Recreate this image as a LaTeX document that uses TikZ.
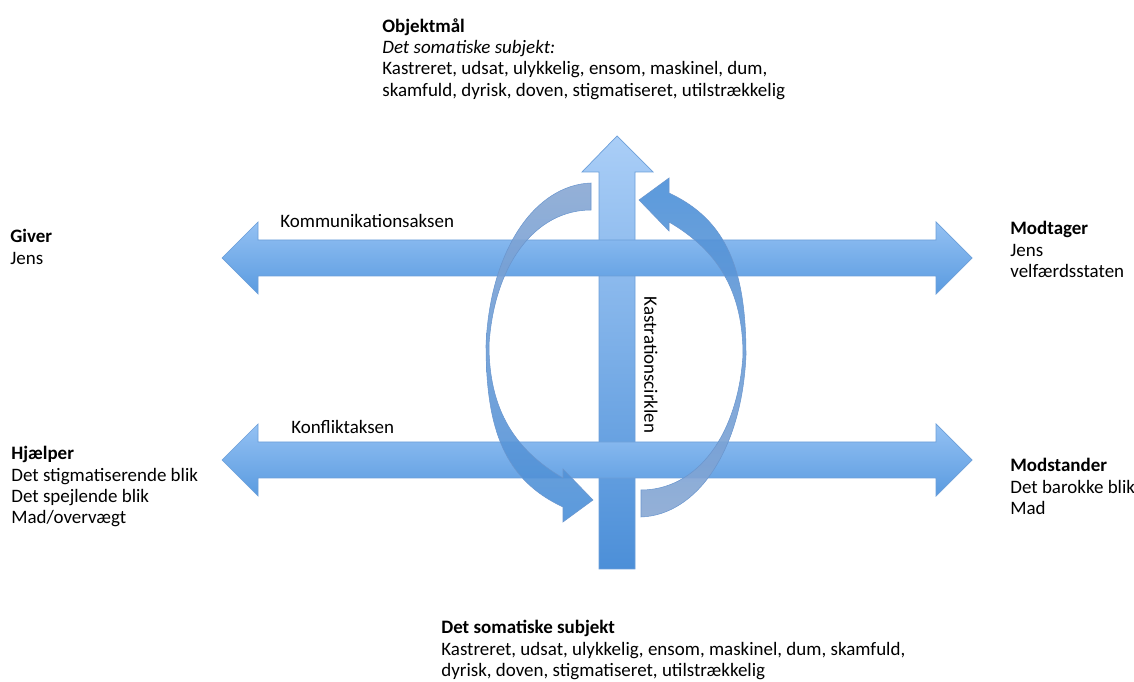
\documentclass[tikz,border=0pt]{standalone}
\usepackage{fontspec}
\setmainfont{Carlito}
\usepackage{xcolor}
\usepackage{tikz}
\usetikzlibrary{positioning}
\definecolor{barlight}{HTML}{94C1F3}
\definecolor{bardark}{HTML}{5A9BE0}
\definecolor{vlight}{HTML}{AACEF7}
\definecolor{vdark}{HTML}{4C8FD8}
\definecolor{baredge}{HTML}{6C9FD9}
\definecolor{arcgrey}{HTML}{88A7D3}
\definecolor{arcblue}{HTML}{4A8FD8}
\definecolor{arcedge}{HTML}{6A96CE}
\newcommand{\diagfont}{\fontsize{10.8pt}{12.2pt}\selectfont}

\begin{document}
\begin{tikzpicture}[x=0.02cm, y=-0.02cm,
    akse/.style={draw=baredge, line width=0.4pt, top color=barlight, bottom color=bardark},
    lodret/.style={draw=baredge, line width=0.4pt, top color=vlight, bottom color=vdark},
    cirkel/.style={draw=arcedge, line width=0.3pt, fill opacity=0.9},
    tekst/.style={anchor=north west, inner sep=0pt, align=left, font=\diagfont,
        execute at begin node=\strut},
    aksenavn/.style={inner sep=0pt, font=\diagfont}]
\useasboundingbox (0,0) rectangle (1134,682);

% Vertical arrow
\draw[lodret] (599,569) -- (599,172) -- (582,172) -- (617,136) -- (653,172)
    -- (635,172) -- (635,569) -- cycle;

% Horizontal arrows
\foreach \yc in {258,460} {
  \draw[akse, shift={(0,\yc)}] (222,0) -- (258,-36) -- (258,-18) -- (936,-18)
      -- (936,-36) -- (972,0) -- (936,36) -- (936,18) -- (258,18)
      -- (258,36) -- cycle;
}

% Circle arrows
\draw[cirkel, top color=arcgrey, bottom color=arcblue]
    (591,183) .. controls (535,185) and (490,250) .. (486,345)
    .. controls (486,430) and (505,480) .. (563,507)
    -- (563,522) -- (593,500) -- (563,469) -- (563,478)
    .. controls (515,450) and (489,410) .. (489,345)
    .. controls (494,265) and (535,210) .. (591,210) -- cycle;
\draw[cirkel, top color=arcblue, bottom color=arcgrey]
    (641,517) .. controls (697,515) and (742,450) .. (746,355)
    .. controls (746,270) and (727,220) .. (669,193)
    -- (669,178) -- (639,200) -- (669,231) -- (669,222)
    .. controls (717,250) and (743,290) .. (743,355)
    .. controls (738,435) and (697,490) .. (641,490) -- cycle;

% Labels
\node[tekst] (objekt) at (382,18) {\textbf{Objektmål}\\
    \textit{Det somatiske subjekt:}\\
    Kastreret, udsat, ulykkelig, ensom, maskinel, dum,\\
    skamfuld, dyrisk, doven, stigmatiseret, utilstrækkelig};
\node[tekst] (giver) at (10,229) {\textbf{Giver}\\ Jens};
\node[tekst] (modtager) at (1010,221) {\textbf{Modtager}\\ Jens\\ velfærdsstaten};
\node[tekst] (hjaelper) at (11,446) {\textbf{Hjælper}\\ Det stigmatiserende blik\\
    Det spejlende blik\\ Mad/overvægt};
\node[tekst] (modstander) at (1010,458) {\textbf{Modstander}\\ Det barokke blik\\ Mad};
\node[tekst] (subjekt) at (441,620) {\textbf{Det somatiske subjekt}\\
    Kastreret, udsat, ulykkelig, ensom, maskinel, dum, skamfuld,\\
    dyrisk, doven, stigmatiseret, utilstrækkelig};

\node[aksenavn, anchor=base west] (kommakse) at (280,228) {Kommunikationsaksen};
\node[aksenavn, anchor=base west] (konfakse) at (291,434) {Konfliktaksen};
\node[aksenavn, rotate=-90] (kastration) at (651,365) {Kastrationscirklen};
\end{tikzpicture}
\end{document}
